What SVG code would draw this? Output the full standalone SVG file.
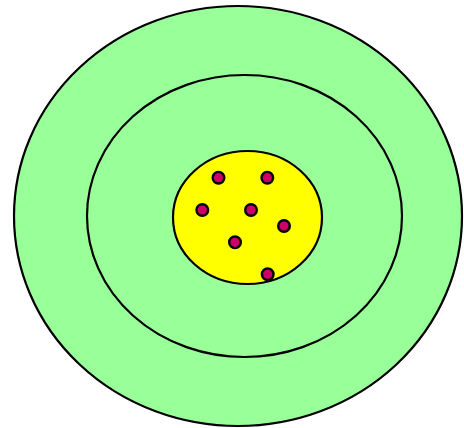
<svg xmlns="http://www.w3.org/2000/svg" width="464" height="428" viewBox="0 0 464 428">
<style>
.ring{fill:#99ff99;stroke:#000;stroke-width:2.2}
.core{fill:#ffff00;stroke:#000;stroke-width:2.2}
.dot{fill:#cc0066;stroke:#000;stroke-width:2.4}
</style>
<rect width="464" height="428" fill="#fff"/>
<g id="outer"><ellipse class="ring" cx="238" cy="216" rx="224" ry="210"/></g>
<g id="middle"><ellipse class="ring" cx="244.5" cy="216" rx="157.5" ry="141"/></g>
<g id="core"><ellipse class="core" cx="247.5" cy="217.5" rx="74.5" ry="66.5"/></g>
<g id="dots">
<circle class="dot" cx="218.5" cy="177.7" r="5.8"/>
<circle class="dot" cx="267.3" cy="177.7" r="5.8"/>
<circle class="dot" cx="202.3" cy="210" r="5.8"/>
<circle class="dot" cx="251" cy="210" r="5.8"/>
<circle class="dot" cx="284" cy="226" r="5.8"/>
<circle class="dot" cx="235" cy="242.3" r="5.8"/>
<circle class="dot" cx="267.7" cy="274.3" r="5.8"/>
</g>
</svg>
